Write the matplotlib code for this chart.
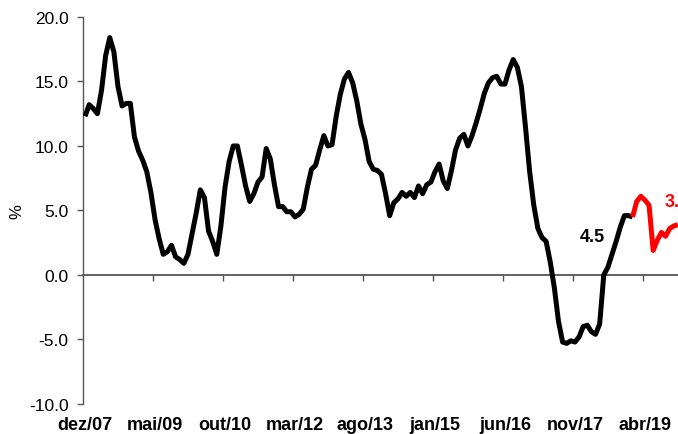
import numpy as np
import matplotlib
matplotlib.use("Agg")
import matplotlib.pyplot as plt

plt.rcParams['font.family'] = ['Liberation Sans', 'DejaVu Sans']

# monthly values, first month dez/07
black_vals = [
    12.3, 13.2, 12.9, 12.5, 14.3, 17.0, 18.4, 17.3, 14.6, 13.1,
    13.3, 13.3, 10.7, 9.6, 8.9, 8.0, 6.4, 4.3, 2.8, 1.6,
    1.8, 2.3, 1.4, 1.2, 0.9, 1.6, 3.2, 4.8, 6.6, 6.0,
    3.4, 2.6, 1.6, 3.8, 6.8, 8.8, 10.0, 10.0, 8.5, 6.9,
    5.7, 6.3, 7.2, 7.6, 9.8, 9.0, 7.0, 5.3, 5.3, 4.9,
    4.9, 4.5, 4.7, 5.1, 6.8, 8.2, 8.5, 9.7, 10.8, 10.0,
    10.1, 12.3, 14.0, 15.2, 15.7, 14.9, 13.5, 11.7, 10.5, 8.8,
    8.2, 8.1, 7.8, 6.3, 4.6, 5.6, 5.9, 6.4, 6.1, 6.4,
    6.0, 6.9, 6.3, 7.0, 7.2, 8.0, 8.6, 7.3, 6.7, 8.1,
    9.7, 10.6, 10.9, 10.0, 10.8, 11.8, 12.9, 14.1, 14.9, 15.3,
    15.4, 14.8, 14.8, 15.9, 16.7, 16.1, 14.6, 11.4, 8.0, 5.4,
    3.6, 2.9, 2.6, 1.0, -1.0, -3.6, -5.2, -5.3, -5.1, -5.2,
    -4.8, -4.0, -3.9, -4.4, -4.6, -3.8, 0.0, 0.6, 1.6, 2.6,
    3.7, 4.6, 4.6, 4.5,
]
# projection, starts on the last observed month
red_vals = [4.5, 5.7, 6.1, 5.8, 5.4, 1.9, 2.7, 3.3, 3.0, 3.6, 3.8, 3.9]
red_start = len(black_vals) - 1

tick_labels = ['dez/07', 'mai/09', 'out/10', 'mar/12', 'ago/13',
               'jan/15', 'jun/16', 'nov/17', 'abr/19']
label_step = 17

black_label = '4.5'
red_label = '3.9'

x_black = np.arange(len(black_vals))
x_red = np.arange(red_start, red_start + len(red_vals))

fig = plt.figure(figsize=(6.78, 4.35), dpi=100)
ax = fig.add_axes([0.1224, 0.069, 0.8835, 0.8897])

ax.plot(x_black, black_vals, color='black', lw=3.6,
        solid_joinstyle='round', solid_capstyle='butt', zorder=3)
ax.plot(x_red, red_vals, color='#ff0000', lw=3.6,
        solid_joinstyle='round', solid_capstyle='butt', zorder=3)

ax.set_xlim(-0.5, 145)
ax.set_ylim(-10, 20)

yt = np.arange(-10, 20.1, 5)
ax.set_yticks(yt)
ax.set_yticklabels([f'{v:.1f}' for v in yt])
ax.tick_params(axis='y', direction='out', length=4, width=1,
               color='#555555', labelsize=12.5, pad=6.5)
ax.set_ylabel('%', fontsize=12, labelpad=3)

for side in ['top', 'right', 'bottom']:
    ax.spines[side].set_visible(False)
ax.spines['left'].set_color('#555555')
ax.spines['left'].set_linewidth(1.0)

# category labels along the bottom
label_pos = np.arange(len(tick_labels)) * label_step
ax.set_xticks(label_pos)
ax.set_xticklabels(tick_labels, fontweight='bold', fontsize=13)
ax.tick_params(axis='x', length=0, pad=8.5)

# axis line at zero with tick marks between categories
zero_frac = (0 - (-10)) / (20 - (-10))
sec = ax.secondary_xaxis(zero_frac)
sec.set_xticks(label_pos[1:] - 0.5)
sec.tick_params(axis='x', direction='out', length=4, width=1,
                color='#555555', labelbottom=False)
sec.spines['bottom'].set_color('#555555')
sec.spines['bottom'].set_linewidth(1.3)

ax.text(123.3, 3.0, black_label, fontsize=13, fontweight='bold',
        color='black', ha='center', va='center')
ax.text(140.8, 5.7, red_label, fontsize=13, fontweight='bold',
        color='#ff0000', ha='left', va='center', clip_on=False)

fig.savefig('out.png', dpi=100)
